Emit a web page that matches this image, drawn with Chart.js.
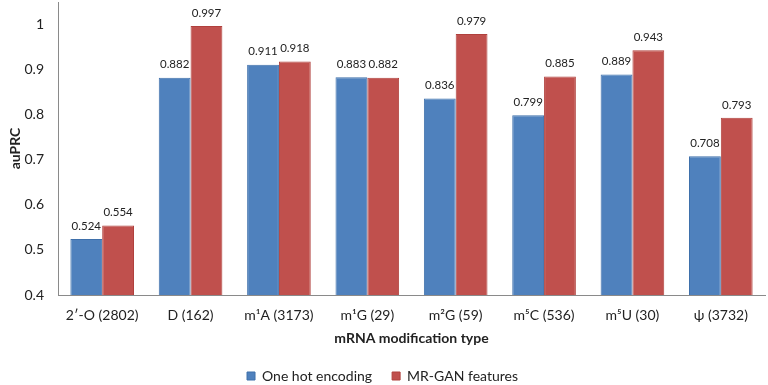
<!DOCTYPE html>
<html>
<head>
<meta charset="utf-8">
<script src="https://cdn.jsdelivr.net/npm/chart.js@4/dist/chart.umd.min.js"></script>
<style>
	html, body { margin: 0; padding: 0; background: #fff; }
	#wrap { width: 768px; height: 385px; }
</style>
</head>
<body>
<div id="wrap"><canvas id="myChart" width="768" height="385"></canvas></div>
<script>
const categorias = ['2\u2032-O (2802)', 'D (162)', 'm\u00b9A (3173)', 'm\u00b9G (29)', 'm\u00b2G (59)', 'm\u2075C (536)', 'm\u2075U (30)', '\u03c8 (3732)'];
const oneHot = [0.524, 0.882, 0.911, 0.883, 0.836, 0.799, 0.889, 0.708];
const mrGan = [0.554, 0.997, 0.918, 0.882, 0.979, 0.885, 0.943, 0.793];
const serieNomes = ['One hot encoding', 'MR-GAN features'];

const fonte = 'Lato, "Liberation Sans", sans-serif';

// rótulos de valor acima das barras
const rotulos = {
	id: 'rotulos',
	afterDatasetsDraw(chart) {
		const ctx = chart.ctx;
		ctx.save();
		ctx.font = '11.5px ' + fonte;
		ctx.fillStyle = '#222';
		ctx.textAlign = 'center';
		ctx.textBaseline = 'middle';
		chart.data.datasets.forEach((ds, i) => {
			chart.getDatasetMeta(i).data.forEach((bar, j) => {
				ctx.fillText(ds.data[j].toFixed(3), bar.x, bar.y - 13);
			});
		});
		ctx.restore();
	}
};

// desce a legenda um pouco
const legendaDesce = {
	id: 'legendaDesce',
	afterLayout(chart) {
		chart.legend.top += 8;
		chart.legend.bottom += 8;
	}
};

const ctx = document.getElementById('myChart').getContext('2d');
const myChart = new Chart(ctx, {
	type: 'bar',
	data: {
		labels: categorias,
		datasets: [{
			label: serieNomes[0],
			data: oneHot,
			backgroundColor: '#4F81BD',
			borderColor: '#3F70AB',
			borderWidth: 1
		}, {
			label: serieNomes[1],
			data: mrGan,
			backgroundColor: '#C0504D',
			borderColor: '#B0403D',
			borderWidth: 1
		}]
	},
	options: {
		responsive: false,
		animation: false,
		layout: { autoPadding: false, padding: { top: 2, right: 3, left: 0, bottom: 0 } },
		datasets: { bar: { categoryPercentage: 0.72, barPercentage: 1 } },
		plugins: {
			legend: {
				position: 'bottom',
				labels: { boxWidth: 8, boxHeight: 8, padding: 20, color: '#222', font: { family: fonte, size: 14 } }
			},
			tooltip: { enabled: false }
		},
		scales: {
			x: {
				grid: { display: false, drawTicks: false },
				border: { color: '#8a8a8a' },
				afterFit: (s) => { s.height = 46; s.paddingLeft = 0; s.paddingRight = 0; },
				ticks: { color: '#222', font: { family: fonte, size: 14 }, padding: 12, maxRotation: 0 },
				title: { display: true, text: 'mRNA modification type', color: '#222', font: { family: fonte, size: 14, weight: 'bold' }, padding: { top: 4, bottom: -5.5 } }
			},
			y: {
				min: 0.4,
				max: 1.05,
				grid: { display: false, drawTicks: false },
				border: { color: '#8a8a8a' },
				afterBuildTicks: (s) => { s.ticks = s.ticks.filter((t) => t.value <= 1.0001); },
				afterFit: (s) => { s.width = 58; s.paddingTop = 0; s.paddingBottom = 0; },
				ticks: {
					stepSize: 0.1, padding: 14, color: '#222', font: { family: fonte, size: 14 },
					callback: (v) => parseFloat(v.toFixed(1)).toString()
				},
				title: { display: true, text: 'auPRC', color: '#222', font: { family: fonte, size: 14, weight: 'bold' }, padding: { top: 7, bottom: 0 } }
			}
		}
	},
	plugins: [rotulos, legendaDesce]
});
</script>
</body>
</html>
